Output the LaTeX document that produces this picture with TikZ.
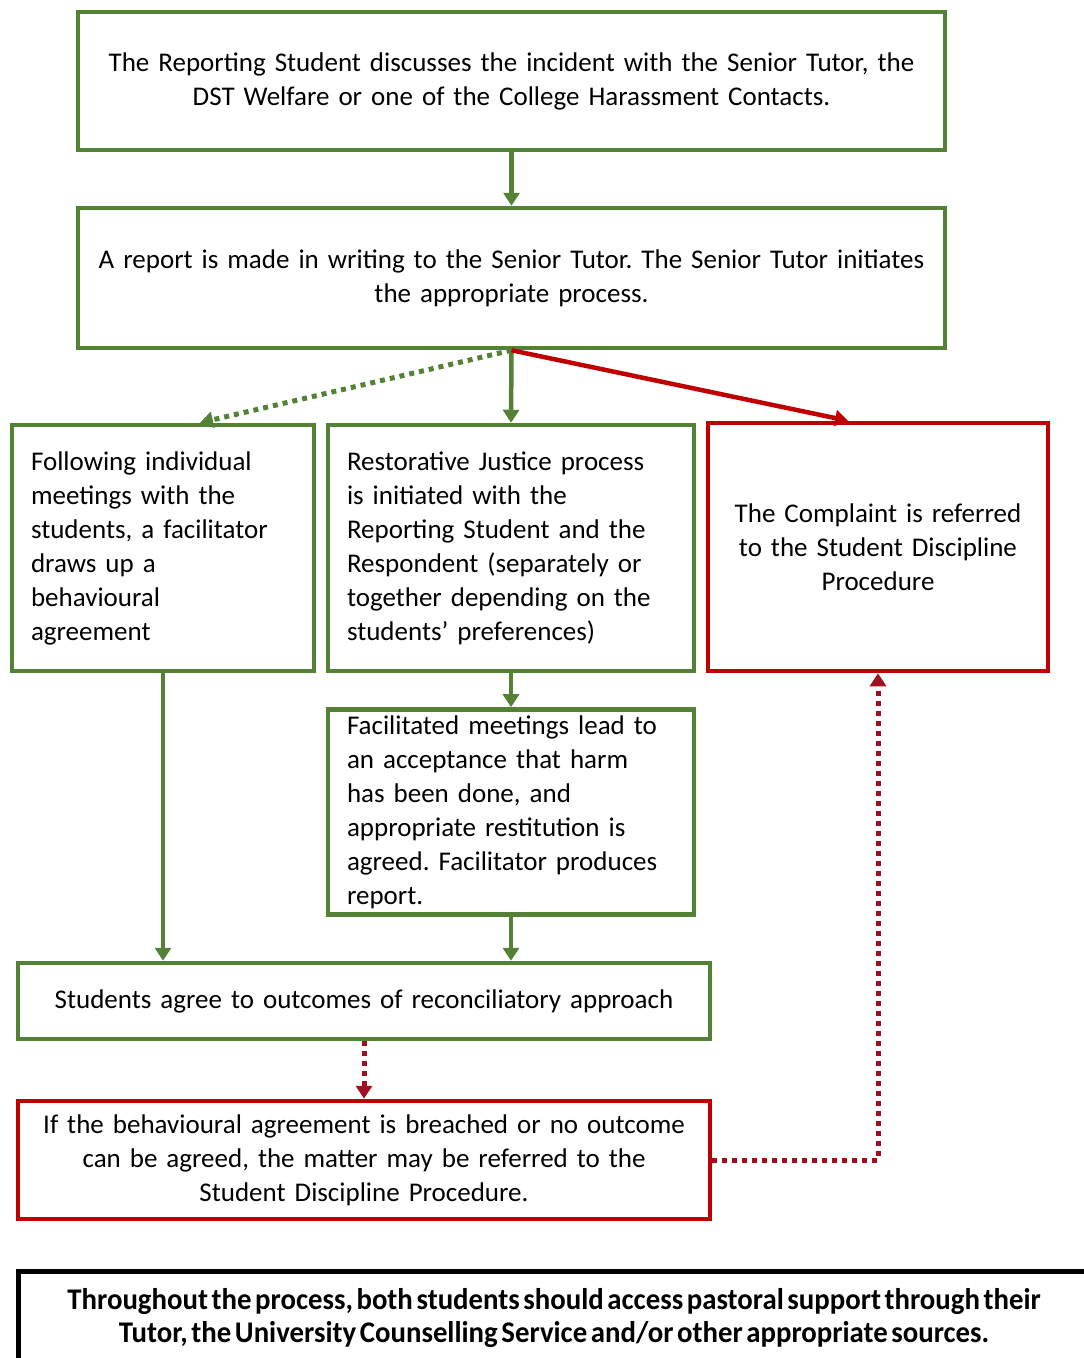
\documentclass[tikz,border=0pt]{standalone}
\usepackage{fontspec}
\setmainfont{Carlito}
\newfontfamily\condbold[FakeStretch=0.96]{Carlito}
\usetikzlibrary{arrows.meta,calc}
\definecolor{gr}{RGB}{84,130,53}
\definecolor{rd}{RGB}{192,0,0}
\definecolor{drd}{RGB}{160,16,32}
\begin{document}
\frenchspacing
\begin{tikzpicture}[x=1pt,y=-1pt,
  box/.style={draw=gr,line width=4.5pt,inner xsep=18pt,inner ysep=6pt,font=\fontsize{27}{34}\selectfont\frenchspacing},
  rbox/.style={box,draw=rd},
  arr/.style={line width=4.5pt,-{Triangle[width=16pt,length=13pt]}},
  garr/.style={arr,draw=gr},
  rarr/.style={arr,draw=rd},
  dotg/.style={line width=5pt,dash pattern=on 5pt off 5pt},
]
\clip (0,0) rectangle (1084,1358);
\useasboundingbox (0,0) rectangle (1084,1358);

\node[box,minimum width=867pt,minimum height=138pt,text width=830pt,align=center] (b1) at (511.5,81)
 {The Reporting Student discusses the incident with the Senior Tutor, the\\DST Welfare or one of the College Harassment Contacts.};
\node[box,minimum width=867pt,minimum height=140pt,text width=831pt,align=center] (b2) at (511.5,278)
 {A report is made in writing to the Senior Tutor. The Senior Tutor initiates\\the appropriate process.};
\node[box,minimum width=302pt,minimum height=246pt,text width=264pt,align=left] (b3) at (163,548)
 {Following individual\\meetings with the\\students, a facilitator\\draws up a\\behavioural\\agreement};
\node[box,minimum width=366pt,minimum height=246pt,text width=328pt,align=left] (b4) at (511,548)
 {Restorative Justice process\\is initiated with the\\Reporting Student and the\\Respondent (separately or\\together depending on the\\students’ preferences)};
\node[rbox,minimum width=340pt,minimum height=248pt,text width=302pt,align=center] (b5) at (878,547)
 {The Complaint is referred\\to the Student Discipline\\Procedure};
\node[box,minimum width=366pt,minimum height=204pt,text width=328pt,align=left] (b6) at (511,812)
 {Facilitated meetings lead to\\an acceptance that harm\\has been done, and\\appropriate restitution is\\agreed. Facilitator produces\\report.};
\node[box,minimum width=692pt,minimum height=76pt,text width=655pt,align=center] (b7) at (364,1001)
 {Students agree to outcomes of reconciliatory approach};
\node[rbox,minimum width=692pt,minimum height=118pt,text width=655pt,align=center] (b8) at (364,1160)
 {If the behavioural agreement is breached or no outcome\\can be agreed, the matter may be referred to the\\Student Discipline Procedure.};
\node[box,draw=black,line width=5pt,minimum width=1072pt,minimum height=93pt,text width=1030pt,align=center,font=\fontsize{30}{34}\condbold\bfseries] (b9) at (554,1318)
 {\spaceskip=0.12em Throughout the process, both students should access pastoral support through their\\Tutor, the University Counselling Service and/or other appropriate sources.};

\draw[garr] (b1.south) -- (b2.north);
\draw[garr] (b2.south) -- (b4.north);
\draw[garr,dotg] (b2.south) -- ([xshift=37pt]b3.north);
\draw[rarr] (b2.south) -- ([xshift=-30pt]b5.north);
\draw[garr] (b4.south) -- (b6.north);
\draw[garr] (b3.south) -- (b3.south |- b7.north);
\draw[garr] (b6.south) -- (b6.south |- b7.north);
\draw[arr,draw=drd,dotg] (b7.south) -- (b8.north);
\draw[arr,draw=drd,dotg] (b8.east) -- (b8.east -| b5.south) -- (b5.south);
\end{tikzpicture}
\end{document}
